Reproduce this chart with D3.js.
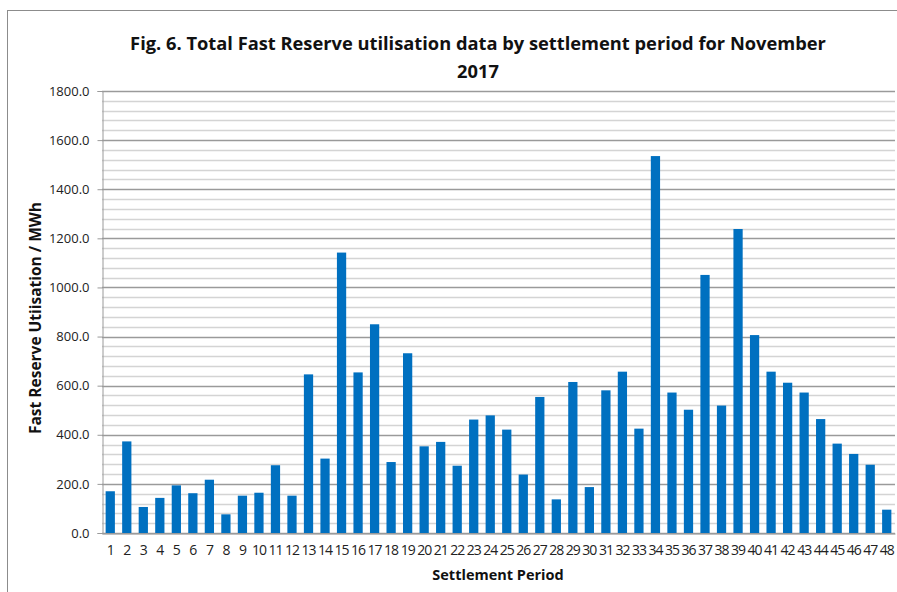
<!DOCTYPE html>
<html>
<head>
<meta charset="utf-8">
<script src="https://cdn.jsdelivr.net/npm/d3@7"></script>
<style>
  body { margin: 0; background: #fff; }
  svg { display: block; font-family: "Open Sans", "Noto Sans", sans-serif; }
</style>
</head>
<body>
<div id="chart"></div>
<script>
/**
 * DATA
 * */
const periods = d3.range(1, 49).map(String);
const utilisation = [
  170, 373, 106, 143, 194, 162, 217, 76, 152, 164, 276, 152,
  646, 303, 1142, 654, 850, 289, 732, 353, 371, 274, 462, 479,
  421, 238, 554, 137, 615, 187, 581, 657, 425, 1535, 572, 502,
  1051, 519, 1238, 806, 657, 612, 572, 464, 364, 322, 278, 95
];
const yTicks = d3.range(0, 1801, 200);
const yMinor = d3.range(0, 1801, 40);

const titleLines = [
  "Fig. 6. Total Fast Reserve utilisation data by settlement period for November",
  "2017"
];
const xTitle = "Settlement Period";
const yTitle = "Fast Reserve Utiisation / MWh";

/**
 * CONSTANTS
 * */
const width = 897,
  height = 592,
  margin = { top: 91, bottom: 59, left: 102, right: 2 };

const svg = d3.select("#chart")
  .append("svg")
  .attr("width", width)
  .attr("height", height);

// chart frame
svg.append("rect")
  .attr("x", 7.5)
  .attr("y", 10.5)
  .attr("width", width + 10)
  .attr("height", height + 10)
  .attr("fill", "none")
  .attr("stroke", "#8c8c8c")
  .attr("stroke-width", 1);

const x = d3.scaleBand()
  .domain(periods)
  .range([margin.left, width - margin.right])
  .paddingInner(0.44)
  .paddingOuter(0.22);

const y = d3.scaleLinear()
  .domain([0, 1800])
  .range([height - margin.bottom, margin.top]);

// minor grid
svg.append("g")
  .selectAll("line")
  .data(yMinor.filter(d => d % 200 !== 0))
  .join("line")
  .attr("x1", margin.left)
  .attr("x2", width - margin.right)
  .attr("y1", d => Math.round(y(d)) + 0.5)
  .attr("y2", d => Math.round(y(d)) + 0.5)
  .attr("stroke", "#d4d4d4")
  .attr("stroke-width", 1.3);

// major grid
svg.append("g")
  .selectAll("line")
  .data(yTicks)
  .join("line")
  .attr("x1", margin.left)
  .attr("x2", width - margin.right)
  .attr("y1", d => Math.round(y(d)) + 0.5)
  .attr("y2", d => Math.round(y(d)) + 0.5)
  .attr("stroke", "#9a9a9a")
  .attr("stroke-width", 1.3);

// bars
svg.append("g")
  .selectAll("rect")
  .data(utilisation)
  .join("rect")
  .attr("x", (d, i) => x(periods[i]))
  .attr("width", x.bandwidth())
  .attr("y", d => y(d))
  .attr("height", d => y(0) - y(d))
  .attr("fill", "#0070c0");

// y axis
const yAxis = svg.append("g")
  .attr("transform", `translate(${margin.left + 0.5},0)`)
  .call(d3.axisLeft(y).tickValues(yTicks).tickFormat(d3.format(".1f")).tickSize(5).tickPadding(8));
yAxis.select(".domain").attr("stroke", "#9a9a9a");
yAxis.selectAll(".tick line").attr("stroke", "#9a9a9a");
yAxis.selectAll("text")
  .attr("font-size", 13)
  .attr("font-family", "'Open Sans', sans-serif")
  .attr("fill", "#222");

// x axis
const xAxis = svg.append("g")
  .attr("transform", `translate(0,${Math.round(y(0)) + 0.5})`)
  .call(d3.axisBottom(x).tickSize(0).tickPadding(12));
xAxis.select(".domain").attr("stroke", "#9a9a9a");
xAxis.selectAll("text")
  .attr("font-size", 14)
  .attr("font-family", "'Open Sans', sans-serif")
  .attr("letter-spacing", -1)
  .attr("fill", "#222");

// titles
svg.append("g")
  .selectAll("text")
  .data(titleLines)
  .join("text")
  .attr("x", 478)
  .attr("y", (d, i) => 50 + i * 28)
  .attr("text-anchor", "middle")
  .attr("font-size", 18.3)
  .attr("font-weight", "bold")
  .attr("fill", "#111")
  .text(d => d);

svg.append("text")
  .attr("x", 498)
  .attr("y", 580)
  .attr("text-anchor", "middle")
  .attr("font-size", 14.5)
  .attr("font-weight", "bold")
  .attr("fill", "#111")
  .text(xTitle);

svg.append("text")
  .attr("transform", `translate(41,318) rotate(-90)`)
  .attr("text-anchor", "middle")
  .attr("font-size", 15.5)
  .attr("font-weight", "bold")
  .attr("fill", "#111")
  .text(yTitle);
</script>
</body>
</html>
